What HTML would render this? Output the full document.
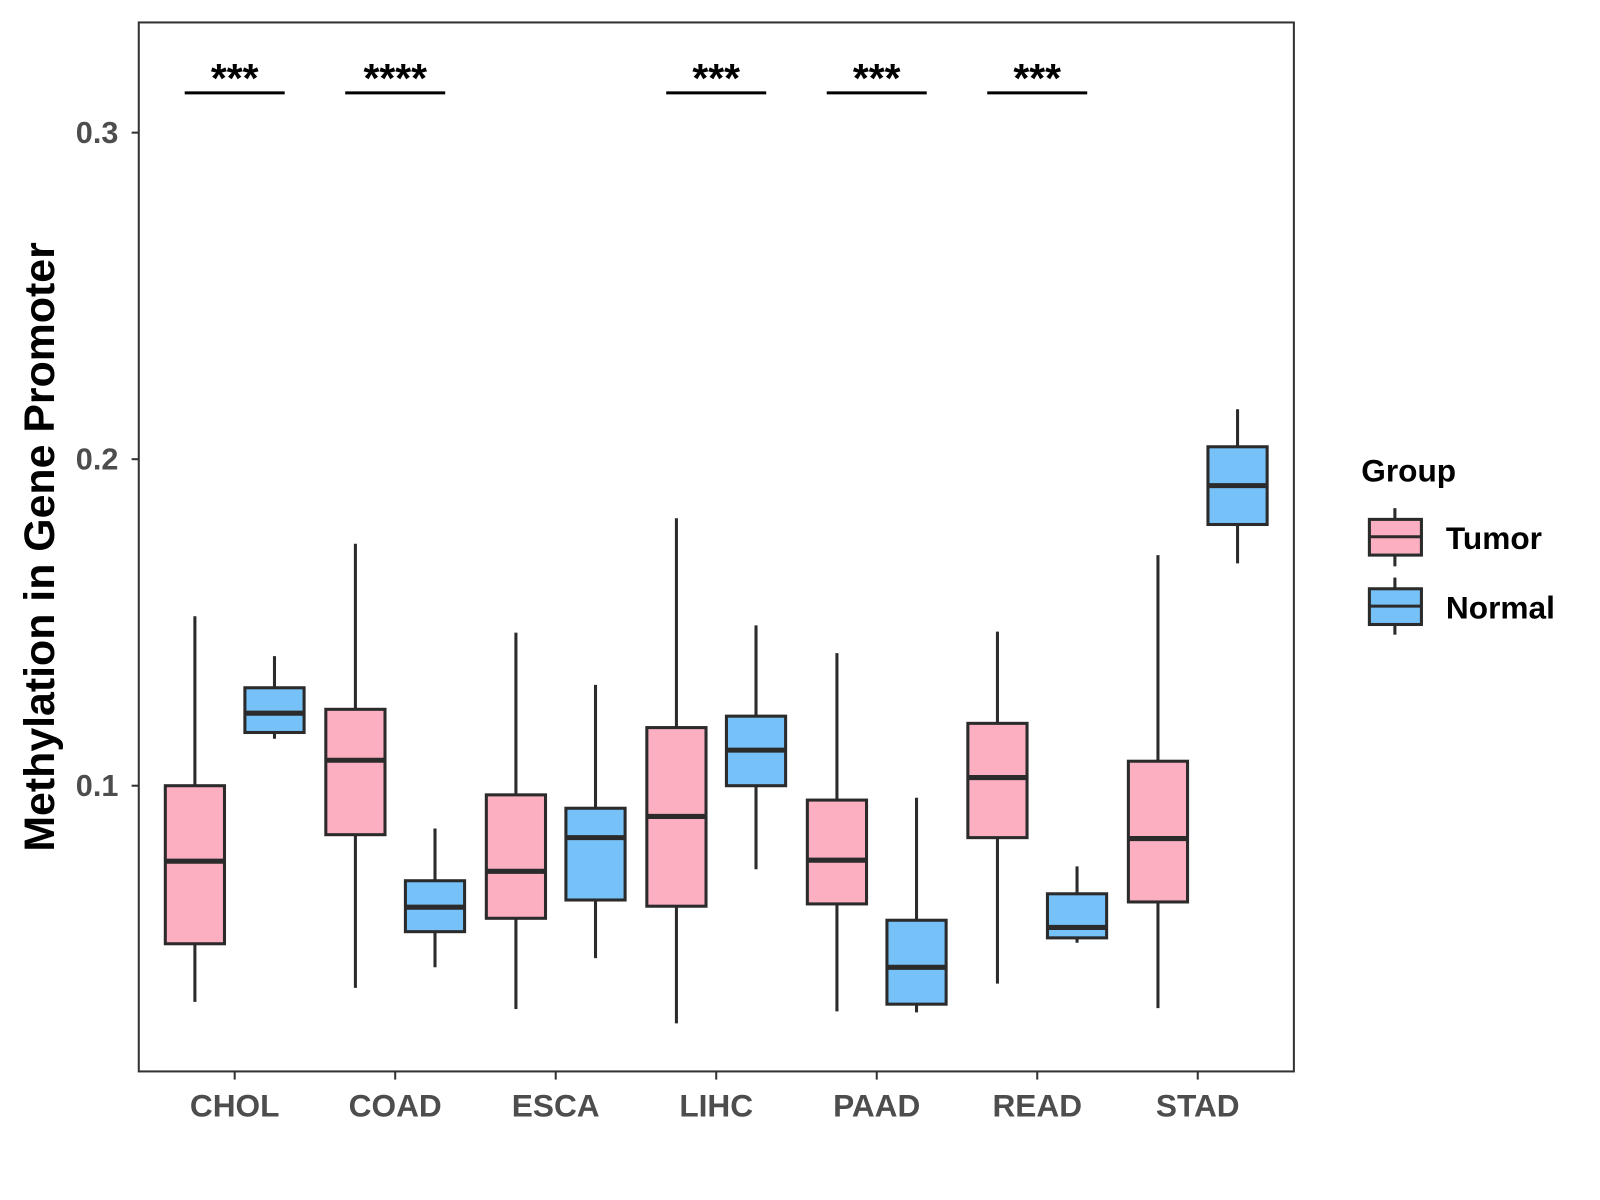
<!DOCTYPE html>
<html><head><meta charset="utf-8"><style>
html,body{margin:0;padding:0;background:#fff;}
svg{display:block;font-family:"Liberation Sans",Arial,sans-serif;font-weight:bold;}
</style></head><body>
<svg id="chart" width="1600" height="1200" viewBox="0 0 1568 1176" xmlns="http://www.w3.org/2000/svg">
<rect x="136" y="22" width="1132" height="1028" fill="#fff" stroke="#333" stroke-width="2"/>
<g id="marks"></g>
<text transform="translate(53,536) rotate(-90)" text-anchor="middle" font-size="42" fill="#000">Methylation in Gene Promoter</text>
<g>
<text x="1334" y="472" font-size="31" fill="#000">Group</text>
<g>
<line x1="1367" y1="498" x2="1367" y2="555" stroke="#2b2b2b" stroke-width="3"/>
<rect x="1342" y="509" width="51" height="35" fill="#fbafc0" stroke="#2b2b2b" stroke-width="3"/>
<line x1="1342" y1="526" x2="1393" y2="526" stroke="#2b2b2b" stroke-width="3"/>
<text x="1417" y="538" font-size="31" fill="#000">Tumor</text></g>
<g>
<line x1="1367" y1="566" x2="1367" y2="622" stroke="#2b2b2b" stroke-width="3"/>
<rect x="1342" y="577" width="51" height="35" fill="#76c1f7" stroke="#2b2b2b" stroke-width="3"/>
<line x1="1342" y1="594" x2="1393" y2="594" stroke="#2b2b2b" stroke-width="3"/>
<text x="1417" y="606" font-size="31" fill="#000">Normal</text></g>
</g>
</svg>
<script>
const categories = ["CHOL","COAD","ESCA","LIHC","PAAD","READ","STAD"];
// [low, q1, median, q3, high]
const tumorStats = [
 [0.0338,0.0516,0.0769,0.1000,0.1519],
 [0.0381,0.0850,0.1078,0.1234,0.1741],
 [0.0316,0.0594,0.0738,0.0972,0.1469],
 [0.0272,0.0631,0.0906,0.1178,0.1819],
 [0.0309,0.0638,0.0772,0.0956,0.1406],
 [0.0394,0.0841,0.1025,0.1191,0.1472],
 [0.0319,0.0644,0.0838,0.1075,0.1706]];
const normalStats = [
 [0.1144,0.1163,0.1222,0.1300,0.1397],
 [0.0444,0.0553,0.0628,0.0709,0.0869],
 [0.0472,0.0650,0.0841,0.0931,0.1309],
 [0.0744,0.1000,0.1109,0.1213,0.1491],
 [0.0306,0.0331,0.0444,0.0588,0.0963],
 [0.0519,0.0534,0.0566,0.0669,0.0753],
 [0.1681,0.1800,0.1919,0.2038,0.2153]];
const significance = ["***","****","","***","***","***",""];
const yTicks = [0.1,0.2,0.3];
const yTickLabels = ["0.1","0.2","0.3"];

const NS="http://www.w3.org/2000/svg";
const g=document.getElementById('marks');
function y(v){return 130+(0.3-v)*3200;}
function x(i){return 230+i*157.3;}
function mk(tag,attrs,parent){const e=document.createElementNS(NS,tag);for(const k in attrs)e.setAttribute(k,attrs[k]);(parent||g).appendChild(e);return e;}
yTicks.forEach((t,i)=>{
 const tk=mk('line',{x1:129,x2:136,y1:y(t),y2:y(t),stroke:'#333','stroke-width':2});
 
 
 const lb=mk('text',{x:116,y:y(t)+10,'text-anchor':'end','font-size':30,fill:'#4d4d4d'});
 lb.textContent=yTickLabels[i];
 
 
});
function box(cx,s,fill,name){
 const grp=mk('g',{});
 
 
 mk('line',{x1:cx,x2:cx,y1:y(s[4]),y2:y(s[0]),stroke:'#2b2b2b','stroke-width':3},grp);
 mk('rect',{x:cx-29,width:58,y:y(s[3]),height:y(s[1])-y(s[3]),fill:fill,stroke:'#2b2b2b','stroke-width':3},grp);
 mk('line',{x1:cx-29,x2:cx+29,y1:y(s[2]),y2:y(s[2]),stroke:'#2b2b2b','stroke-width':5},grp);
}
categories.forEach((c,i)=>{
 const cx=x(i);
 box(cx-39,tumorStats[i],'#fbafc0','box-tumor-'+c.toLowerCase());
 box(cx+39,normalStats[i],'#76c1f7','box-normal-'+c.toLowerCase());
 const tk=mk('line',{x1:cx,x2:cx,y1:1050,y2:1058,stroke:'#333','stroke-width':2});
 
 
 const lb=mk('text',{x:cx,y:1094,'text-anchor':'middle','font-size':31,fill:'#4d4d4d'});
 lb.textContent=c;
 
 
 if(significance[i]){
  const ln=mk('line',{x1:cx-49,x2:cx+49,y1:91,y2:91,stroke:'#000','stroke-width':3});
  
  
  const st=mk('text',{x:cx,y:90,'text-anchor':'middle','font-size':40,fill:'#000'});
  st.textContent=significance[i];
  
  
 }
});
</script>
</body></html>
